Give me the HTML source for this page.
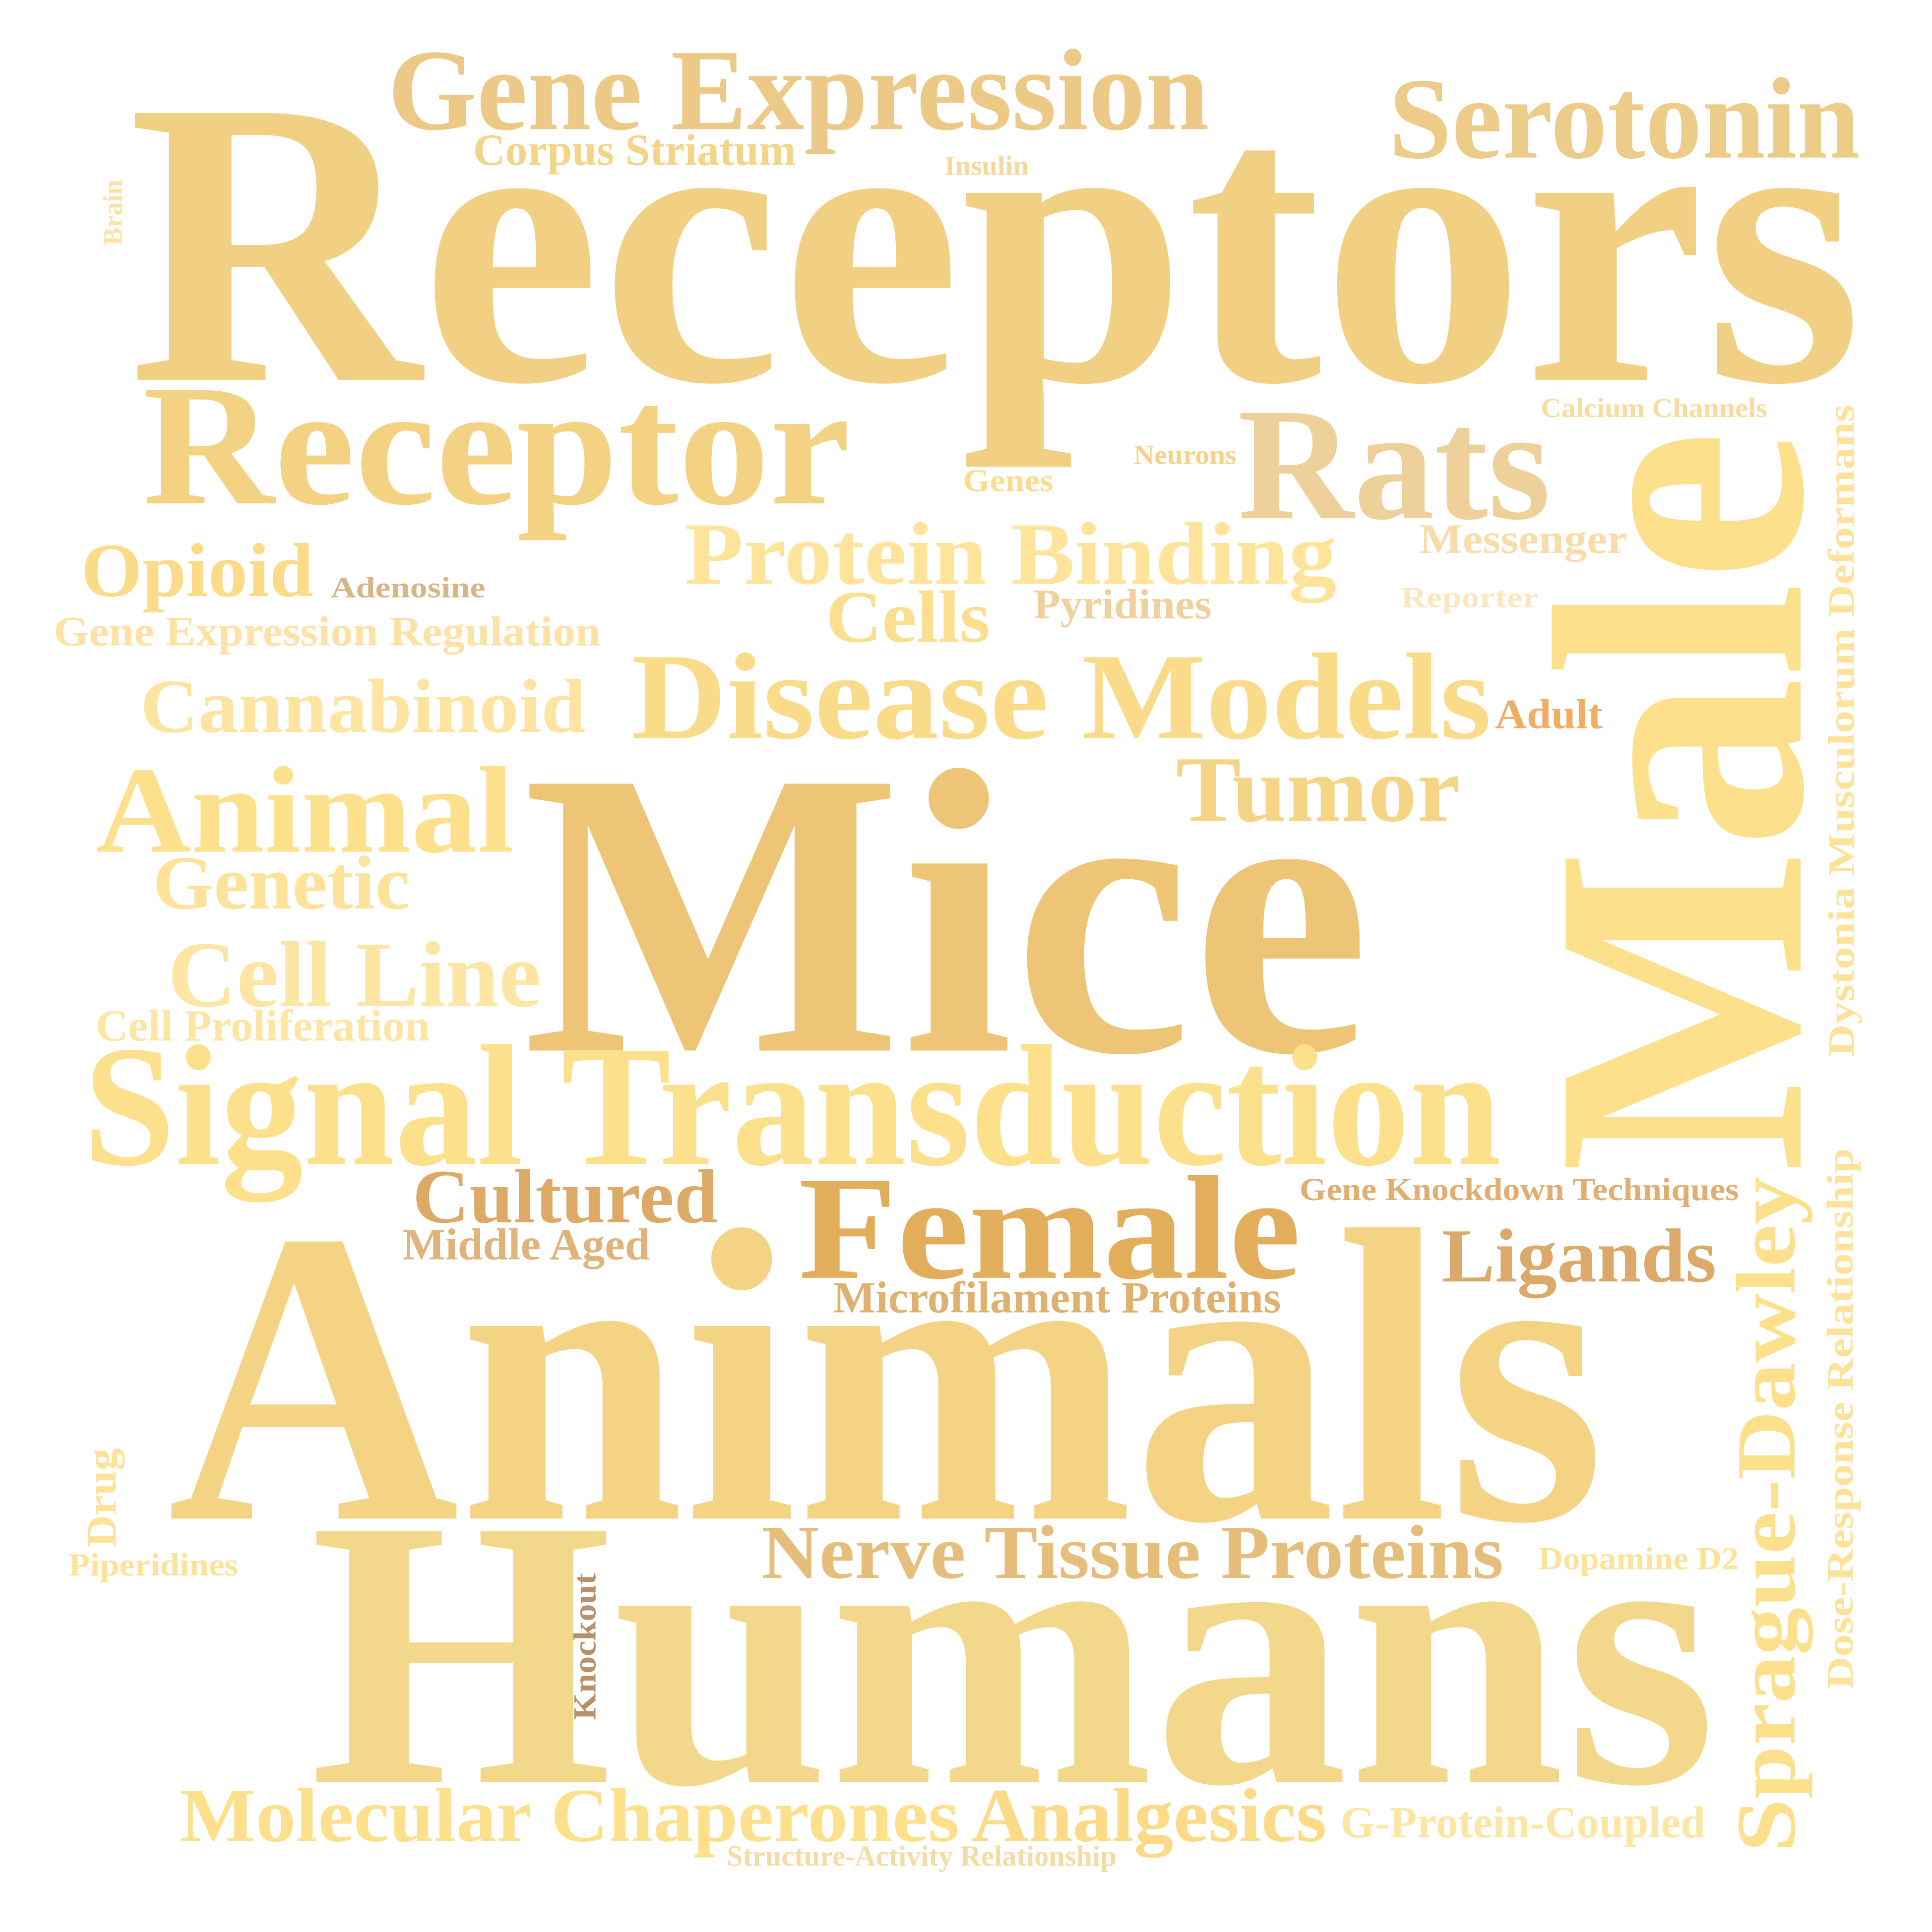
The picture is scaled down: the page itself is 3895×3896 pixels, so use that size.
<!DOCTYPE html>
<html><head><meta charset="utf-8"><style>
html,body{margin:0;padding:0;background:#fff;}
svg{display:block;}
text{font-family:"Liberation Serif",serif;font-weight:bold;}
</style></head><body>
<svg width="3895" height="3896" viewBox="0 0 1556 1556.4" xmlns="http://www.w3.org/2000/svg">
<rect width="1556" height="1557" fill="#fff"/>
<g transform="translate(-4.6,-2.4) scale(0.9964,0.995)">
<text x="108" y="310" font-size="330" fill="#f2d083" textLength="1402" lengthAdjust="spacingAndGlyphs">Receptors</text>
<text x="318" y="107" font-size="94" fill="#edc987" textLength="664" lengthAdjust="spacingAndGlyphs">Gene Expression</text>
<text x="1127" y="130" font-size="94" fill="#edcb88" textLength="381" lengthAdjust="spacingAndGlyphs">Serotonin</text>
<text x="387" y="136" font-size="36" fill="#f3d587" textLength="261" lengthAdjust="spacingAndGlyphs">Corpus Striatum</text>
<text x="768" y="144" font-size="22" fill="#f7d899" textLength="68" lengthAdjust="spacingAndGlyphs">Insulin</text>
<text transform="translate(103,201) rotate(-90)" font-size="22" fill="#fbe1a6" textLength="53" lengthAdjust="spacingAndGlyphs">Brain</text>
<text x="120" y="410" font-size="140" fill="#f3d283" textLength="572" lengthAdjust="spacingAndGlyphs">Receptor</text>
<text x="1005" y="422" font-size="130" fill="#eed09b" textLength="253" lengthAdjust="spacingAndGlyphs">Rats</text>
<text x="1250" y="340" font-size="22" fill="#f9dc9c" textLength="183" lengthAdjust="spacingAndGlyphs">Calcium Channels</text>
<text x="921" y="378" font-size="22" fill="#f5d28a" textLength="83" lengthAdjust="spacingAndGlyphs">Neurons</text>
<text x="783" y="400" font-size="26" fill="#fbdc8e" textLength="73" lengthAdjust="spacingAndGlyphs">Genes</text>
<text transform="translate(1460,952) rotate(-90)" font-size="290" fill="#fde08c" textLength="602" lengthAdjust="spacingAndGlyphs">Male</text>
<text transform="translate(1503,858) rotate(-90)" font-size="30" fill="#fde29a" textLength="528" lengthAdjust="spacingAndGlyphs">Dystonia Musculorum Deformans</text>
<text x="1152" y="450" font-size="34" fill="#f9dcaa" textLength="168" lengthAdjust="spacingAndGlyphs">Messenger</text>
<text x="558" y="475" font-size="72" fill="#fde49a" textLength="527" lengthAdjust="spacingAndGlyphs">Protein Binding</text>
<text x="70" y="485" font-size="62" fill="#fbda88" textLength="188" lengthAdjust="spacingAndGlyphs">Opioid</text>
<text x="272" y="486" font-size="24" fill="#d8b587" textLength="125" lengthAdjust="spacingAndGlyphs">Adenosine</text>
<text x="48" y="525" font-size="34" fill="#fde1a5" textLength="442" lengthAdjust="spacingAndGlyphs">Gene Expression Regulation</text>
<text x="672" y="522" font-size="60" fill="#fbde8e" textLength="133" lengthAdjust="spacingAndGlyphs">Cells</text>
<text x="840" y="503" font-size="34" fill="#eed19c" textLength="144" lengthAdjust="spacingAndGlyphs">Pyridines</text>
<text x="1137" y="494" font-size="24" fill="#fbe6c0" textLength="111" lengthAdjust="spacingAndGlyphs">Reporter</text>
<text x="118" y="595" font-size="62" fill="#fde4a0" textLength="360" lengthAdjust="spacingAndGlyphs">Cannabinoid</text>
<text x="515" y="600" font-size="100" fill="#fadb8a" textLength="695" lengthAdjust="spacingAndGlyphs">Disease Models</text>
<text x="1213" y="592" font-size="34" fill="#efae66" textLength="87" lengthAdjust="spacingAndGlyphs">Adult</text>
<text x="82" y="692" font-size="100" fill="#fde08c" textLength="338" lengthAdjust="spacingAndGlyphs">Animal</text>
<text x="955" y="667" font-size="76" fill="#f6d486" textLength="230" lengthAdjust="spacingAndGlyphs">Tumor</text>
<text x="427" y="853" font-size="330" fill="#eec476" textLength="685" lengthAdjust="spacingAndGlyphs">Mice</text>
<text x="128" y="738" font-size="62" fill="#fde29a" textLength="208" lengthAdjust="spacingAndGlyphs">Genetic</text>
<text x="140" y="817" font-size="76" fill="#fde6a4" textLength="302" lengthAdjust="spacingAndGlyphs">Cell Line</text>
<text x="82" y="845" font-size="36" fill="#fde6a4" textLength="270" lengthAdjust="spacingAndGlyphs">Cell Proliferation</text>
<text x="72" y="945" font-size="140" fill="#fde08c" textLength="1146" lengthAdjust="spacingAndGlyphs">Signal Transduction</text>
<text x="338" y="992" font-size="62" fill="#dcaa66" textLength="247" lengthAdjust="spacingAndGlyphs">Cultured</text>
<text x="330" y="1022" font-size="36" fill="#e0b37a" textLength="200" lengthAdjust="spacingAndGlyphs">Middle Aged</text>
<text x="650" y="1037" font-size="120" fill="#e3ae5c" textLength="406" lengthAdjust="spacingAndGlyphs">Female</text>
<text x="1055" y="974" font-size="26" fill="#dfae70" textLength="355" lengthAdjust="spacingAndGlyphs">Gene Knockdown Techniques</text>
<text x="1170" y="1040" font-size="62" fill="#dbaa6a" textLength="222" lengthAdjust="spacingAndGlyphs">Ligands</text>
<text x="678" y="1065" font-size="36" fill="#dfb170" textLength="362" lengthAdjust="spacingAndGlyphs">Microfilament Proteins</text>
<text x="140" y="1232" font-size="340" fill="#f4d385" textLength="1162" lengthAdjust="spacingAndGlyphs">Animals</text>
<text transform="translate(1455,1502) rotate(-90)" font-size="68" fill="#fde08c" textLength="547" lengthAdjust="spacingAndGlyphs">Sprague-Dawley</text>
<text transform="translate(1502,1370) rotate(-90)" font-size="30" fill="#fde29a" textLength="438" lengthAdjust="spacingAndGlyphs">Dose-Response Relationship</text>
<text transform="translate(98,1255) rotate(-90)" font-size="34" fill="#fde29a" textLength="80" lengthAdjust="spacingAndGlyphs">Drug</text>
<text x="60" y="1278" font-size="26" fill="#fde29a" textLength="137" lengthAdjust="spacingAndGlyphs">Piperidines</text>
<text transform="translate(486,1395) rotate(-90)" font-size="26" fill="#b8916c" textLength="119" lengthAdjust="spacingAndGlyphs">Knockout</text>
<text x="620" y="1280" font-size="62" fill="#e4be7a" textLength="600" lengthAdjust="spacingAndGlyphs">Nerve Tissue Proteins</text>
<text x="1248" y="1273" font-size="26" fill="#fde29a" textLength="162" lengthAdjust="spacingAndGlyphs">Dopamine D2</text>
<text x="255" y="1445" font-size="310" fill="#f3d88b" textLength="1137" lengthAdjust="spacingAndGlyphs">Humans</text>
<text x="150" y="1493" font-size="62" fill="#fde08c" textLength="630" lengthAdjust="spacingAndGlyphs">Molecular Chaperones</text>
<text x="790" y="1493" font-size="62" fill="#fbda88" textLength="287" lengthAdjust="spacingAndGlyphs">Analgesics</text>
<text x="1088" y="1490" font-size="36" fill="#fde6a4" textLength="295" lengthAdjust="spacingAndGlyphs">G-Protein-Coupled</text>
<text x="592" y="1513" font-size="24" fill="#f5dca4" textLength="315" lengthAdjust="spacingAndGlyphs">Structure-Activity Relationship</text>
</g>
</svg>
</body></html>
